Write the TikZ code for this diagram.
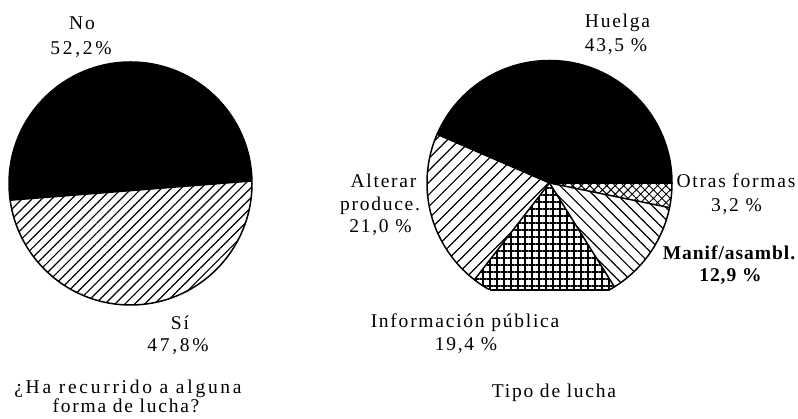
\documentclass[tikz,border=0pt]{standalone}
\usepackage{fontspec}
\setmainfont{Liberation Serif}
\newfontfamily\labfont[LetterSpace=9]{Liberation Serif}
\newfontfamily\widefont[LetterSpace=14]{Liberation Serif}
\newfontfamily\blabfont[LetterSpace=5]{Liberation Serif Bold}
\usetikzlibrary{patterns.meta}
\begin{document}
\begin{tikzpicture}[x=1pt,y=1pt,
  lab/.style={font=\labfont\fontsize{19.5}{23}\selectfont, inner sep=0pt, anchor=base},
  wlab/.style={lab, font=\widefont\fontsize{19.5}{23}\selectfont},
  blab/.style={lab, font=\blabfont\fontsize{19.5}{23}\selectfont},
  outl/.style={line width=1.5pt, line join=round},
  sipat/.style={pattern={Lines[angle=45,distance=7pt,line width=1.2pt]}},
  altpat/.style={pattern={Lines[angle=45,distance=8.5pt,line width=1.2pt]}},
  manpat/.style={pattern={Lines[angle=-45,distance=8.5pt,line width=1.2pt]}},
  infpat/.style={pattern={Hatch[angle=0,distance=7pt,line width=1.2pt]}},
  otrpat/.style={pattern={Hatch[angle=45,distance=6pt,line width=1pt]}}]
\fill[white] (0,0) rectangle (798,419);
\useasboundingbox (0,0) rectangle (798,419);

% ---- left pie ----
\coordinate (L) at (130.5,235.5);
\begin{scope}[shift={(L)}]
  \fill[black] (1.2:121.5) arc[start angle=1.2, end angle=187.9, radius=121.5] -- cycle;
  \fill[sipat] (187.9:121.5) arc[start angle=187.9, end angle=361.2, radius=121.5] -- cycle;
  \draw[outl] (0,0) circle[radius=121.5];
  \draw[outl] (1.2:121.5) -- (187.9:121.5);
\end{scope}

\node[lab] (noA) at (82,389) {No};
\node[wlab] (noB) at (81,364) {52,2\%};
\node[lab] (siA) at (180,89) {Sí};
\node[wlab] (siB) at (178,67) {47,8\%};
\node[wlab] (capLA) at (128,25) {¿Ha recurrido a alguna};
\node[lab] (capLB) at (126,6) {forma de lucha?};

% ---- right pie ----
\coordinate (R) at (549.5,236);
\begin{scope}
  \clip (400,129) rectangle (700,419);
  \begin{scope}[shift={(R)}]
    \fill[black] (0,0) -- (0:122.5) arc[start angle=0, end angle=156.6, radius=122.5] -- cycle;
    \fill[altpat] (0,0) -- (156.6:122.5) arc[start angle=156.6, end angle=232.2, radius=122.5] -- cycle;
    \fill[infpat] (0,0) -- (232.2:122.5) arc[start angle=232.2, end angle=302.0, radius=122.5] -- cycle;
    \fill[manpat] (0,0) -- (302.0:122.5) arc[start angle=302.0, end angle=348.4, radius=122.5] -- cycle;
    \fill[otrpat] (0,0) -- (348.4:122.5) arc[start angle=348.4, end angle=360, radius=122.5] -- cycle;
    \draw[outl] (0,0) circle[radius=122.5];
    \draw[outl] (156.6:122.5) -- (0,0) -- (232.2:122.5);
    \draw[outl] (0,0) -- (302.0:122.5);
    \draw[outl] (0,0) -- (348.4:122.5);
    \draw[outl] (0,0) -- (0:122.5);
  \end{scope}
\end{scope}
\coordinate (RbL) at (489.5,129);
\coordinate (RbR) at (609.5,129);
\draw[line width=2.2pt] (RbL) -- (RbR);

\node[lab] (huA) at (617.5,391) {Huelga};
\node[lab] (huB) at (616,367) {43,5 \%};
\node[lab] (alA) at (383.5,231) {Alterar};
\node[lab] (alB) at (380,208) {produce.};
\node[lab] (alC) at (380.5,186) {21,0 \%};
\node[lab] (otA) at (736,231) {Otras formas};
\node[lab] (otB) at (736.5,207) {3,2 \%};
\node[blab] (maA) at (729,159) {Manif/asambl.};
\node[blab] (maB) at (730.5,137) {12,9 \%};
\node[lab] (inA) at (465,91) {Información pública};
\node[lab] (inB) at (466,68) {19,4 \%};
\node[lab] (capR) at (554,21) {Tipo de lucha};
\end{tikzpicture}
\end{document}
